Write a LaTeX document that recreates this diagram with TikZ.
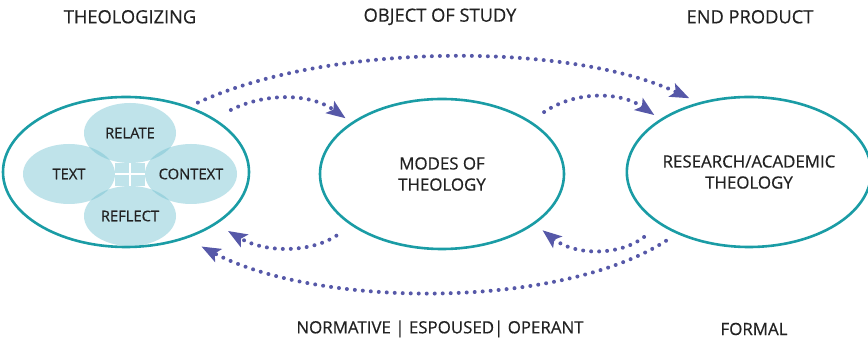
\documentclass[tikz,border=0pt]{standalone}
\usepackage{fontspec}
\setmainfont{Open Sans}[FakeBold=0.5]
\usetikzlibrary{arrows.meta,calc,shapes.geometric}
\definecolor{ink}{HTML}{222222}
\definecolor{ringteal}{HTML}{1A9CA5}
\definecolor{petalfill}{HTML}{72C1D1}
\definecolor{petalsolid}{HTML}{BFE3EA}
\definecolor{flowblue}{HTML}{5658A8}

\begin{document}
\begin{tikzpicture}[
  font=\fontsize{12}{15}\selectfont,
  >={Stealth[length=4.75mm, width=3.6mm, inset=1mm]},
  stage/.style={ellipse, draw=ringteal, line width=0.65mm, fill=white, text=ink,
    align=center, minimum height=37.5mm, inner sep=0pt, outer sep=2mm},
  petal/.style={ellipse, fill=petalfill, fill opacity=0.45, text opacity=1, text=ink,
    minimum width=23mm, minimum height=15mm, inner sep=0pt, outer sep=0pt,
    font=\fontsize{10.5}{12}\selectfont},
  heading/.style={font=\fontsize{13}{15}\selectfont, text=ink},
  caption/.style={font=\fontsize{12}{15}\selectfont, text=ink},
  flow/.style={->, draw=flowblue, line width=1mm, line cap=round,
    dash pattern=on 0mm off 2mm}
]
\useasboundingbox (0,0) rectangle (217mm,-85mm);

% ---------------------------------------------------------------------------
% column headings
% ---------------------------------------------------------------------------
\node[heading] (hTheo) at (32.5mm,-4.2mm) {THEOLOGIZING};
\node[heading] (hStudy) at (110mm,-4.2mm) {OBJECT OF STUDY};
\node[heading] (hProduct) at (187.5mm,-4.2mm) {END PRODUCT};

% ---------------------------------------------------------------------------
% the three stages
% ---------------------------------------------------------------------------
\node[stage, minimum width=61.5mm] (theo) at (31.5mm,-43mm) {};
\node[stage, minimum width=61mm] (modes) at (110.5mm,-43.5mm) {MODES OF\\THEOLOGY};
\node[stage, minimum width=58.5mm] (research) at (187.25mm,-43mm) {RESEARCH/ACADEMIC\\THEOLOGY};

% four petals inside the first stage
\node[petal] (relate) at (32.5mm,-33.25mm) {RELATE};
\node[petal] (ptext) at (17.25mm,-43.5mm) {TEXT};
\node[petal] (context) at (47.75mm,-43.5mm) {CONTEXT};
\node[petal] (reflect) at (32.5mm,-54mm) {REFLECT};
\fill[petalsolid] (ptext.east |- relate.south) rectangle (context.west |- reflect.north);
\draw[white, line width=0.5mm] (ptext.east) -- (context.west);
\draw[white, line width=0.5mm] (relate.south) -- (reflect.north);

% ---------------------------------------------------------------------------
% flows forward (top) and back (bottom)
% ---------------------------------------------------------------------------
\draw[flow] (theo.44) .. controls (82.5mm,-10.5mm) and (142.5mm,-10.5mm) .. (research.129);
\draw[flow, shorten <=2.75mm] (theo.31) .. controls (66.25mm,-23.2mm) and (77.5mm,-23.2mm) .. (modes.150);
\draw[flow, shorten <=2.25mm] (modes.31) .. controls (143.75mm,-22.75mm) and (155mm,-22.75mm) .. (research.149);

\draw[flow, shorten <=3.25mm, shorten >=0.75mm] (research.211) .. controls (155mm,-64mm) and (143.75mm,-64mm) .. (modes.331);
\draw[flow, shorten <=2.75mm, shorten >=1.5mm] (modes.210) .. controls (77.5mm,-63.25mm) and (66.25mm,-63.25mm) .. (theo.330);
\draw[flow, shorten <=1.25mm, shorten >=2mm] (research.220) .. controls (140mm,-77.25mm) and (80mm,-77.25mm) .. (theo.314);

% ---------------------------------------------------------------------------
% captions below
% ---------------------------------------------------------------------------
\node[caption] (cModes) at (110mm,-82.25mm) {NORMATIVE | ESPOUSED| OPERANT};
\node[caption] (cFormal) at (188.5mm,-82.25mm) {FORMAL};

\end{tikzpicture}
\end{document}
